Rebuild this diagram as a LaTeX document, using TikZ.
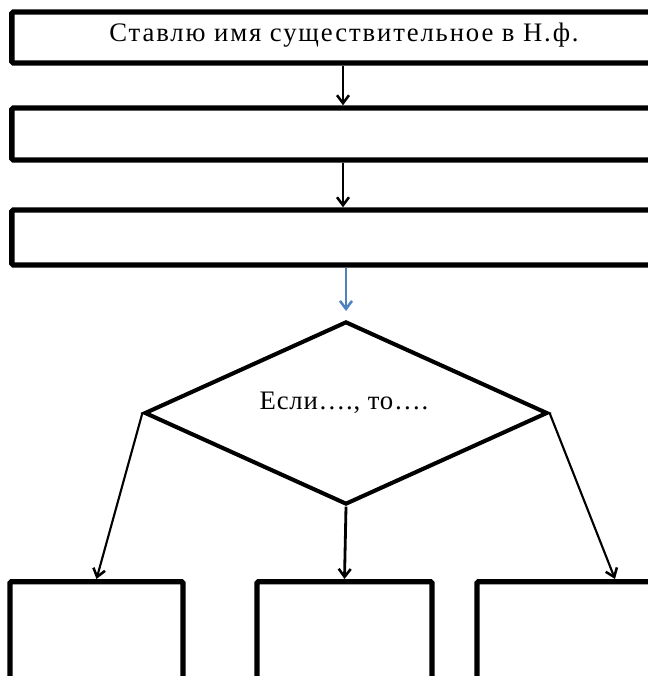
\documentclass[tikz,border=0pt]{standalone}
\usepackage{fontspec}
\setmainfont{Liberation Serif}
\usetikzlibrary{shapes.geometric,arrows.meta}
\tikzset{
  box/.style={draw,line width=3.8pt,rounded corners=1pt,inner sep=0pt},
  choice/.style={draw,diamond,line width=2.9pt,inner sep=0pt,
    minimum width=10.075cm,minimum height=4.575cm},
  arr/.style={line width=2pt,-{Straight Barb[length=2mm,width=3mm,line width=1.8pt]}},
  blue arr/.style={arr,color=stepblue},
  label/.style={font=\fontsize{19}{21}\selectfont,inner sep=0pt}
}
\definecolor{stepblue}{RGB}{79,129,189}
\begin{document}
\begin{tikzpicture}[x=0.025cm,y=-0.025cm]
                \useasboundingbox (0,0) rectangle (648,676);
                \clip (0,0) rectangle (648,676);
                %% steps
                \node[box,minimum width=16.55cm,minimum height=1.275cm] (first) at (343,37.5) {};
                \node[label] (firsttext) at (344,35) {\addfontfeature{LetterSpace=7}Ставлю имя существительное в Н.ф.};
                \node[box,minimum width=16.55cm,minimum height=1.3cm] (second) at (343,134) {};
                \node[box,minimum width=16.55cm,minimum height=1.375cm] (third) at (343,237.5) {};
                %% condition
                \node[choice] (cond) at (346,413) {};
                \node[label] (condtext) at (344,403) {\addfontfeature{LetterSpace=3}Если…., то….};
                %% outcomes
                \node[box,anchor=north,minimum width=4.325cm,minimum height=5cm] (left) at (96.5,579) {};
                \node[box,anchor=north,minimum width=4.375cm,minimum height=5cm] (middle) at (344.5,579) {};
                \node[box,anchor=north,minimum width=6.9cm,minimum height=5cm] (right) at (615,579) {};
                %% arrows
                \draw[arr] (first.south) -- (second.north);
                \draw[arr] (second.south) -- (third.north);
                \draw[blue arr,shorten >=6] (third.south -| cond.north) -- (cond.north);
                \draw[arr,line width=1.5pt] (cond.west) -- (left.north);
                \draw[arr] (cond.south) -- (middle.north);
                \draw[arr,line width=1.5pt] (cond.east) -- (right.north);
\end{tikzpicture}
\end{document}
